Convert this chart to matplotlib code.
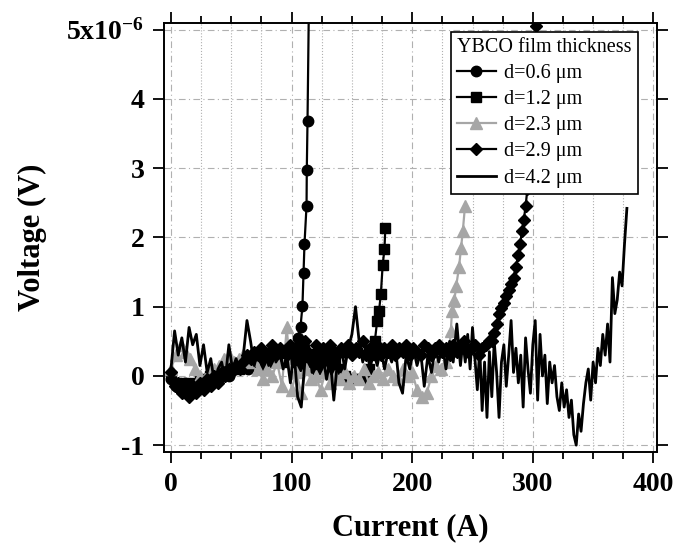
import matplotlib
matplotlib.use('Agg')
import matplotlib.pyplot as plt
from matplotlib.ticker import MultipleLocator, FixedLocator

plt.rcParams['font.family'] = ['Liberation Serif', 'DejaVu Serif']
plt.rcParams['mathtext.fontset'] = 'custom'
plt.rcParams['mathtext.bf'] = 'Liberation Serif:bold'
plt.rcParams['mathtext.rm'] = 'Liberation Serif'

# current (A) and voltage (in units of 1e-6 V)
x_06 = [0, 4, 8, 12, 16, 20, 24, 28, 32, 36, 40, 44, 48, 52, 56, 60, 64, 68,
        72, 76, 80, 84, 88, 92, 96, 100, 103, 105, 107.4, 109, 109.9, 110.7,
        112.4, 112.6, 113.2, 114.5]
v_06 = [-0.05, -0.15, -0.2, -0.1, -0.2, -0.15, -0.1, -0.05, 0.0, -0.05, 0.05,
        0.1, 0.0, 0.1, 0.15, 0.2, 0.1, 0.2, 0.25, 0.15, 0.2, 0.3, 0.25, 0.2,
        0.3, 0.35, 0.4, 0.55, 0.71, 1.01, 1.49, 1.91, 2.46, 2.97, 3.68, 5.6]

x_12 = [0, 4, 8, 12, 16, 20, 24, 28, 32, 36, 40, 44, 48, 52, 56, 60, 64, 68,
        72, 76, 80, 84, 88, 92, 96, 100, 104, 108, 112, 116, 120, 124, 128,
        132, 136, 140, 144, 148, 152, 156, 160, 164, 167, 169, 171, 172.5,
        174, 175.5, 177, 177.7]
v_12 = [0.0, -0.1, -0.15, -0.1, -0.2, -0.1, -0.05, -0.1, 0.0, 0.05, 0.0, 0.1,
        0.05, 0.15, 0.1, 0.2, 0.15, 0.25, 0.2, 0.3, 0.2, 0.25, 0.3, 0.2, 0.25,
        0.3, 0.2, 0.15, 0.25, 0.2, 0.1, 0.2, 0.15, 0.1, 0.2, 0.1, 0.0, -0.05,
        -0.05, -0.05, -0.05, 0.1, 0.3, 0.5, 0.8, 0.94, 1.18, 1.6, 1.83, 2.14]

x_23 = [0, 4, 8, 12, 16, 20, 24, 28, 32, 36, 40, 44, 48, 52, 56, 60, 64, 68,
        72, 76, 80, 84, 88, 92, 96, 100, 104, 108, 112, 116, 120, 124, 128,
        132, 136, 140, 144, 148, 152, 156, 160, 164, 168, 172, 176, 180, 184,
        188, 192, 196, 200, 204, 208, 212, 216, 220, 224, 228, 231, 232, 233,
        235, 236.5, 238.8, 240.5, 242, 243.8]
v_23 = [0.1, 0.3, 0.45, 0.35, 0.25, 0.1, 0.0, -0.05, 0.05, 0.1, 0.15, 0.25,
        0.3, 0.2, 0.25, 0.3, 0.2, 0.25, 0.1, -0.05, 0.1, 0.0, 0.2, -0.15, 0.7,
        -0.2, 0.05, -0.25, 0.1, -0.05, 0.0, -0.2, 0.05, -0.1, 0.0, -0.05,
        0.05, -0.1, 0.0, -0.05, 0.1, -0.1, 0.0, 0.05, -0.05, 0.1, 0.0, -0.05,
        0.1, 0.0, 0.05, -0.2, -0.3, -0.25, 0.0, 0.15, 0.1, 0.2, 0.4, 0.65,
        0.94, 1.1, 1.3, 1.57, 1.85, 2.1, 2.46]

x_29 = [0, 3, 6, 9, 12, 15, 18, 21, 24, 27, 30, 33, 36, 39, 42, 45, 48, 51,
        54, 57, 60, 63, 66, 69, 72, 75, 78, 81, 84, 87, 90, 93, 96, 99, 102,
        105, 108, 111, 114, 117, 120, 123, 126, 129, 132, 135, 138, 141, 144,
        147, 150, 153, 156, 159, 162, 165, 168, 171, 174, 177, 180, 183, 186,
        189, 192, 195, 198, 201, 204, 207, 210, 213, 216, 219, 222, 225, 228,
        231, 234, 237, 240, 243, 246, 249, 252, 255, 258, 261, 264, 266, 268,
        270, 272, 274, 276, 278, 280, 282, 284, 286, 288, 289.5, 291, 292.5,
        294, 295.5, 297, 298.5, 300, 301, 302, 303, 304]
v_29 = [0.05, -0.15, -0.1, -0.25, -0.2, -0.3, -0.15, -0.25, -0.1, -0.2,
        -0.05, -0.15, 0.0, -0.1, 0.05, 0.0, 0.1, 0.05, 0.15, 0.1, 0.2, 0.3,
        0.25, 0.35, 0.3, 0.4, 0.3, 0.35, 0.45, 0.3, 0.4, 0.35, 0.3, 0.45, 0.35,
        0.3, 0.4, 0.5, 0.35, 0.3, 0.45, 0.35, 0.4, 0.3, 0.45, 0.35, 0.3, 0.4,
        0.35, 0.45, 0.3, 0.4, 0.35, 0.5, 0.3, 0.4, 0.35, 0.45, 0.3, 0.4, 0.35,
        0.45, 0.3, 0.4, 0.35, 0.45, 0.3, 0.4, 0.35, 0.3, 0.45, 0.4, 0.3, 0.4,
        0.45, 0.35, 0.4, 0.3, 0.45, 0.35, 0.4, 0.5, 0.35, 0.4, 0.45, 0.3, 0.4,
        0.45, 0.5, 0.5, 0.62, 0.75, 0.9, 0.98, 1.06, 1.15, 1.24, 1.33, 1.42,
        1.58, 1.75, 1.9, 2.1, 2.25, 2.45, 2.7, 3.0, 3.35, 3.75, 4.15, 4.6,
        5.05, 5.5]

x_42 = [0, 3, 6, 9, 12, 15, 18, 21, 24, 27, 30, 33, 36, 39, 42, 45, 48, 51,
        54, 57, 60, 63, 66, 69, 72, 75, 78, 81, 84, 87, 90, 93, 96, 99, 102,
        105, 108, 111, 114, 117, 120, 123, 126, 129, 132, 135, 138, 141, 144,
        147, 150, 153, 156, 159, 162, 165, 168, 171, 174, 177, 180, 183, 186,
        189, 192, 195, 198, 201, 204, 207, 210, 213, 216, 219, 222, 225, 228,
        231, 234, 237, 240, 242, 244, 246, 248, 250, 252, 254, 256, 258, 260,
        262, 264, 266, 268, 270, 272, 274, 276, 278, 280, 282, 284, 286, 288,
        290, 292, 294, 296, 298, 300, 302, 304, 306, 308, 310, 312, 314, 316,
        318, 320, 322, 324, 326, 328, 330, 332, 334, 336, 338, 340, 342, 344,
        346, 348, 350, 352, 354, 356, 358, 360, 362, 364, 366, 368, 370, 372,
        374, 376, 378]
v_42 = [0.1, 0.65, 0.3, 0.55, 0.2, 0.7, 0.45, 0.6, 0.15, 0.45, 0.05, 0.25,
        -0.1, 0.1, 0.2, -0.05, 0.45, 0.1, 0.25, 0.05, 0.3, 0.8, 0.5, 0.15,
        0.35, 0.2, 0.4, 0.15, 0.45, 0.2, 0.35, 0.1, 0.3, -0.1, 0.35, -0.3,
        -0.45, 0.2, 0.45, 0.05, 0.4, 0.1, 0.3, -0.05, 0.25, -0.35, 0.2, 0.45,
        0.1, 0.4, 0.6, 1.0, 0.5, 0.2, 0.45, 0.1, 0.35, 0.15, 0.4, 0.1, 0.35,
        0.2, 0.45, -0.1, -0.25, 0.3, 0.1, 0.4, 0.15, 0.35, -0.15, 0.3, 0.05,
        0.4, 0.2, 0.45, 0.1, 0.5, 0.2, 0.75, 0.15, 0.5, 0.2, 0.6, 0.1, 0.7,
        0.25, -0.2, 0.4, -0.5, 0.2, -0.6, 0.35, -0.3, 0.5, 0.05, -0.6, 0.2,
        0.45, -0.15, 0.3, 0.8, 0.05, 0.4, -0.1, 0.3, -0.45, 0.55, 0.1, -0.25,
        0.45, 0.8, -0.35, 0.6, 0.0, 0.3, -0.4, 0.2, -0.1, 0.15, -0.3, -0.5,
        -0.1, -0.45, -0.2, -0.6, -0.35, -0.85, -1.0, -0.55, -0.8, -0.4, -0.1,
        0.1, -0.35, 0.2, -0.1, 0.4, 0.15, 0.6, 0.3, 0.75, 0.2, 1.42, 0.9, 1.1,
        1.5, 1.3, 1.9, 2.42]

labels = ['d=0.6 μm', 'd=1.2 μm', 'd=2.3 μm', 'd=2.9 μm', 'd=4.2 μm']
y_ticks = [-1, 0, 1, 2, 3, 4, 5]
y_ticklabels = ['-1', '0', '1', '2', '3', '4', r'$\mathbf{5x10^{-6}}$']
x_ticks = [0, 100, 200, 300, 400]

fig = plt.figure(figsize=(6.88, 5.44), dpi=100)
ax = fig.add_axes([0.238, 0.169, 0.717, 0.789])

gray = '#a6a6a6'
ax.plot(x_06, v_06, color='black', marker='o', ms=7.5, lw=1.6, label=labels[0])
ax.plot(x_12, v_12, color='black', marker='s', ms=7, lw=1.6, label=labels[1])
ax.plot(x_23, v_23, color=gray, marker='^', ms=8, lw=1.6, label=labels[2])
ax.plot(x_29, v_29, color='black', marker='D', ms=6.5, lw=1.6, label=labels[3])
ax.plot(x_42, v_42, color='black', lw=2, label=labels[4])

ax.set_xlim(-6, 403)
ax.set_ylim(-1.1, 5.1)
ax.xaxis.set_major_locator(FixedLocator(x_ticks))
ax.xaxis.set_minor_locator(MultipleLocator(25))
ax.yaxis.set_major_locator(FixedLocator(y_ticks))
ax.set_yticklabels(y_ticklabels)
ax.set_xticklabels([str(t) for t in x_ticks])

ax.tick_params(which='both', direction='out', top=True, right=True,
               width=1.3, labelsize=20)
ax.tick_params(which='major', length=8, pad=6)
ax.tick_params(which='minor', length=5)
for lab in ax.get_xticklabels() + ax.get_yticklabels():
    lab.set_fontweight('bold')

ax.grid(True, which='major', axis='both', color='#b0b0b0', ls=(0, (6, 3, 1, 3)), lw=0.8)
ax.grid(True, which='minor', axis='x', color='#b0b0b0', ls=':', lw=0.8)
for s in ax.spines.values():
    s.set_linewidth(1.4)

ax.set_xlabel('Current (A)', fontsize=22, fontweight='bold', labelpad=12)
ax.set_ylabel('Voltage (V)', fontsize=22, fontweight='bold', labelpad=14)

leg = ax.legend(title='YBCO film thickness', loc='upper right',
                bbox_to_anchor=(0.961, 0.979), borderaxespad=0,
                fontsize=14.5, title_fontsize=14.5, fancybox=False,
                edgecolor='black', framealpha=1, handlelength=1.9,
                handletextpad=0.4, labelspacing=0.35, borderpad=0.3,
                alignment='left')
leg.get_frame().set_linewidth(1.2)

fig.savefig('out.png', dpi=100)
